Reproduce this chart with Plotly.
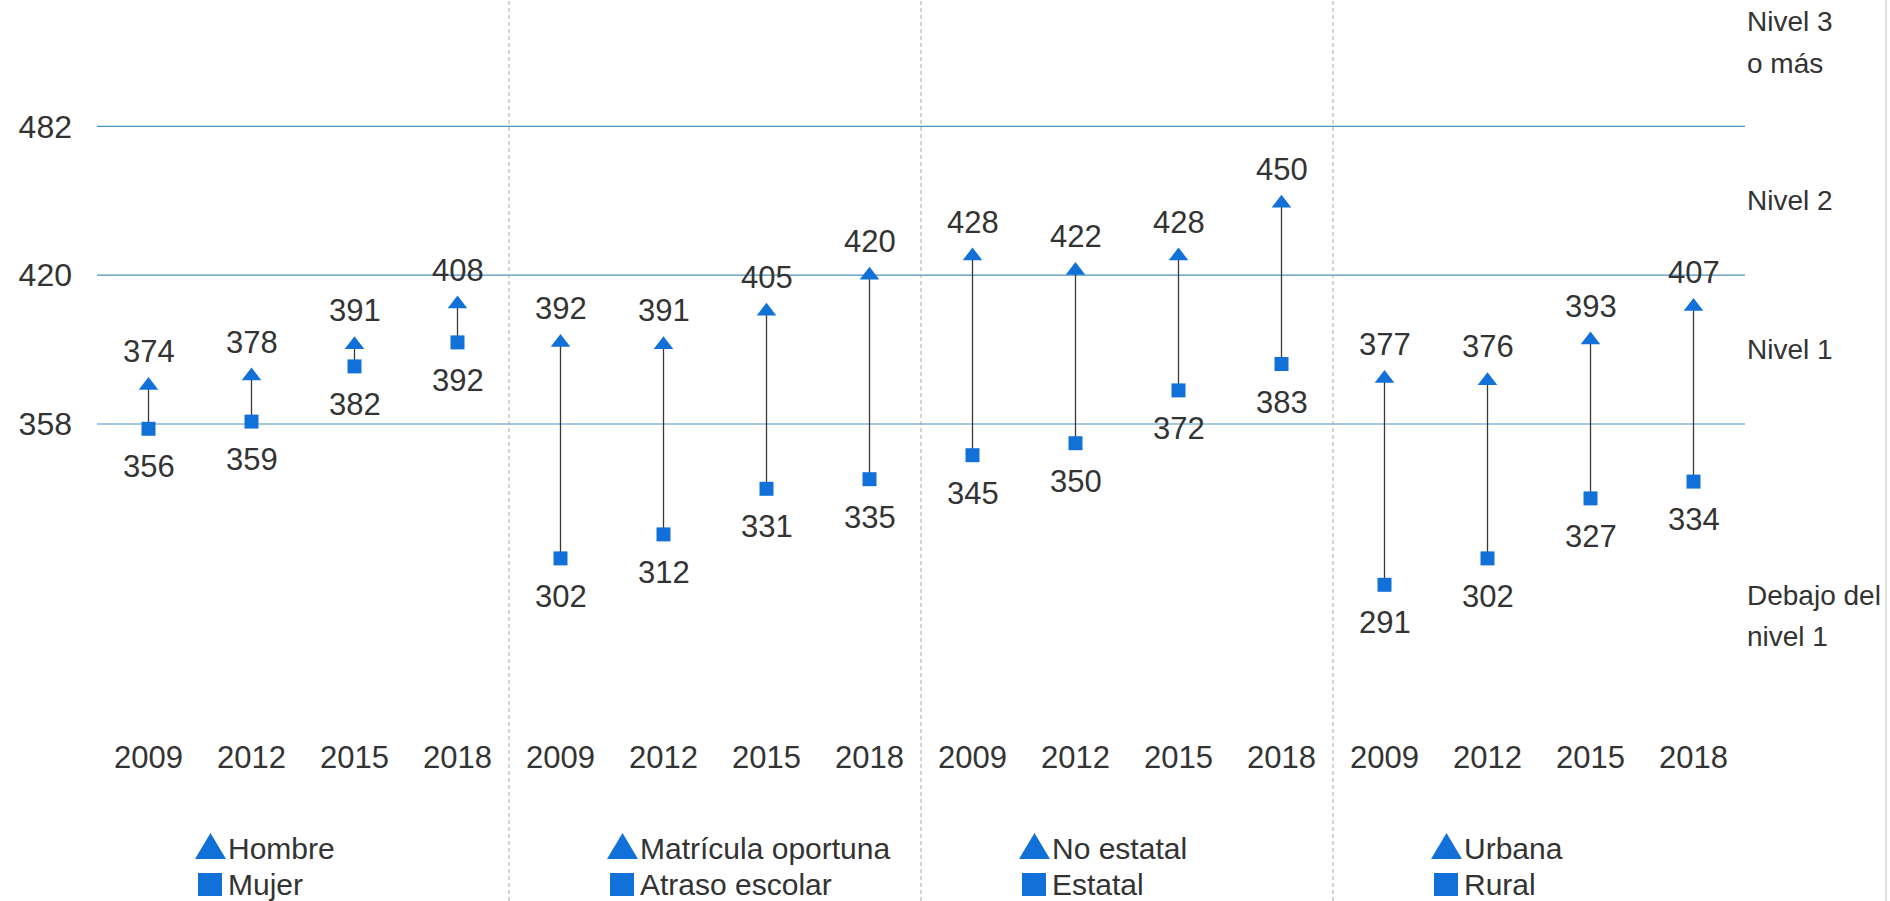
import plotly.graph_objects as go

# ---- data -------------------------------------------------------------
years = ["2009", "2012", "2015", "2018"]
group_high_names = ["Hombre", "Matrícula oportuna", "No estatal", "Urbana"]
group_low_names = ["Mujer", "Atraso escolar", "Estatal", "Rural"]

# upper series (triangles), one block of four years per group
high_values = [374, 378, 391, 408,
               392, 391, 405, 420,
               428, 422, 428, 450,
               377, 376, 393, 407]
# lower series (squares)
low_values = [356, 359, 382, 392,
              302, 312, 331, 335,
              345, 350, 372, 383,
              291, 302, 327, 334]

level_cuts = [358, 420, 482]
level_labels = [("Nivel 3", "o más"), ("Nivel 2",), ("Nivel 1",), ("Debajo del", "nivel 1")]
level_label_y = [517, 451, 389, 278]

# ---- geometry ---------------------------------------------------------
W, H = 1890, 901
PLOT_L, PLOT_R = 97, 1745          # plot area in pixels
PLOT_T, PLOT_B = 0, 730
PX_PER_UNIT = 2.4
Y_REF_VAL, Y_REF_PX = 358, 424
y_max = Y_REF_VAL + (Y_REF_PX - PLOT_T) / PX_PER_UNIT
y_min = Y_REF_VAL - (PLOT_B - Y_REF_PX) / PX_PER_UNIT

BLUE = "#1271d9"
TEXT = "#333333"
GRID = "#4b93bd"
FONT = "Liberation Sans, Arial, sans-serif"

n = len(high_values)
xs = list(range(n))
ticktext = years * len(group_high_names)


def px(x):
    return x / W


def py(y):
    return 1 - y / H


fig = go.Figure()

# level boundaries drawn as horizontal rules across the plot area
for v in level_cuts:
    fig.add_shape(type="line", xref="paper", yref="y",
                  x0=px(PLOT_L), x1=px(PLOT_R), y0=v, y1=v,
                  line=dict(color=GRID, width=1.2), layer="below")

# vertical connectors between the two series
cx, cy = [], []
for i in xs:
    cx += [i, i, None]
    cy += [low_values[i], high_values[i], None]
fig.add_trace(go.Scatter(x=cx, y=cy, mode="lines",
                         line=dict(color="#3a3a3a", width=1.3),
                         hoverinfo="skip", showlegend=False))

fig.add_trace(go.Scatter(x=xs, y=high_values, mode="markers",
                         marker=dict(symbol="triangle-up", size=17, color=BLUE),
                         showlegend=False))
fig.add_trace(go.Scatter(x=xs, y=low_values, mode="markers",
                         marker=dict(symbol="square", size=14, color=BLUE),
                         showlegend=False))

annotations = []
for i in xs:
    annotations.append(dict(x=i, y=high_values[i], xref="x", yref="y",
                            text=str(high_values[i]), showarrow=False,
                            yshift=34, yanchor="middle",
                            font=dict(size=31, color=TEXT, family=FONT)))
    annotations.append(dict(x=i, y=low_values[i], xref="x", yref="y",
                            text=str(low_values[i]), showarrow=False,
                            yshift=-38, yanchor="middle",
                            font=dict(size=31, color=TEXT, family=FONT)))

# level names on the right-hand side
for lines, yv in zip(level_labels, level_label_y):
    k = len(lines)
    for j, line in enumerate(lines):
        annotations.append(dict(x=px(PLOT_R), y=yv, xref="paper", yref="y",
                                text=line, showarrow=False,
                                xanchor="left", yanchor="middle",
                                yshift=(k - 1) * 20.8 - j * 41.6,
                                font=dict(size=28, color=TEXT, family=FONT)))

# dashed dividers between groups
group_size = len(years)
for g in range(1, len(group_high_names)):
    fig.add_shape(type="line", xref="x", yref="paper",
                  x0=g * group_size - 0.5, x1=g * group_size - 0.5, y0=0, y1=1,
                  line=dict(color="#a8a8a8", width=1, dash="4px,3px"), layer="below")
# thin frame line on the right edge
fig.add_shape(type="line", xref="paper", yref="paper",
              x0=px(1886), x1=px(1886), y0=0, y1=1,
              line=dict(color="#dde2e2", width=2))

# per-group legends: a triangle and a square with their series names
cat_w = (PLOT_R - PLOT_L) / n
for g, (hi_name, lo_name) in enumerate(zip(group_high_names, group_low_names)):
    gs = PLOT_L + g * group_size * cat_w
    tx0, tx1, ty0, ty1 = gs + 98, gs + 129, 859, 833
    fig.add_shape(type="path", xref="paper", yref="paper",
                  path=f"M{px(tx0)},{py(ty0)} L{px(tx1)},{py(ty0)} L{px((tx0 + tx1) / 2)},{py(ty1)} Z",
                  fillcolor=BLUE, line=dict(width=0))
    fig.add_shape(type="rect", xref="paper", yref="paper",
                  x0=px(gs + 101), x1=px(gs + 125), y0=py(896), y1=py(873),
                  fillcolor=BLUE, line=dict(width=0))
    annotations.append(dict(x=px(gs + 129), y=py(848), xref="paper", yref="paper",
                            text=hi_name, showarrow=False, xanchor="left", yanchor="middle",
                            font=dict(size=30, color=TEXT, family=FONT)))
    annotations.append(dict(x=px(gs + 129), y=py(884), xref="paper", yref="paper",
                            text=lo_name, showarrow=False, xanchor="left", yanchor="middle",
                            font=dict(size=30, color=TEXT, family=FONT)))

fig.update_layout(
    width=W, height=H,
    margin=dict(l=0, r=0, t=0, b=0),
    paper_bgcolor="white", plot_bgcolor="white",
    showlegend=False,
    font=dict(family=FONT, color=TEXT),
    xaxis=dict(domain=[px(PLOT_L), px(PLOT_R)], range=[-0.5, n - 0.5],
               tickvals=xs, ticktext=ticktext, showgrid=False, zeroline=False,
               showline=False, ticks="", ticklabelstandoff=6,
               tickfont=dict(size=31, color=TEXT, family=FONT)),
    yaxis=dict(domain=[py(PLOT_B), py(PLOT_T)], range=[y_min, y_max],
               tickvals=level_cuts, showgrid=False,
               zeroline=False, showline=False, ticks="", ticklabelstandoff=24,
               tickfont=dict(size=32, color=TEXT, family=FONT)),
    annotations=annotations,
)

fig.write_html("out.html")
